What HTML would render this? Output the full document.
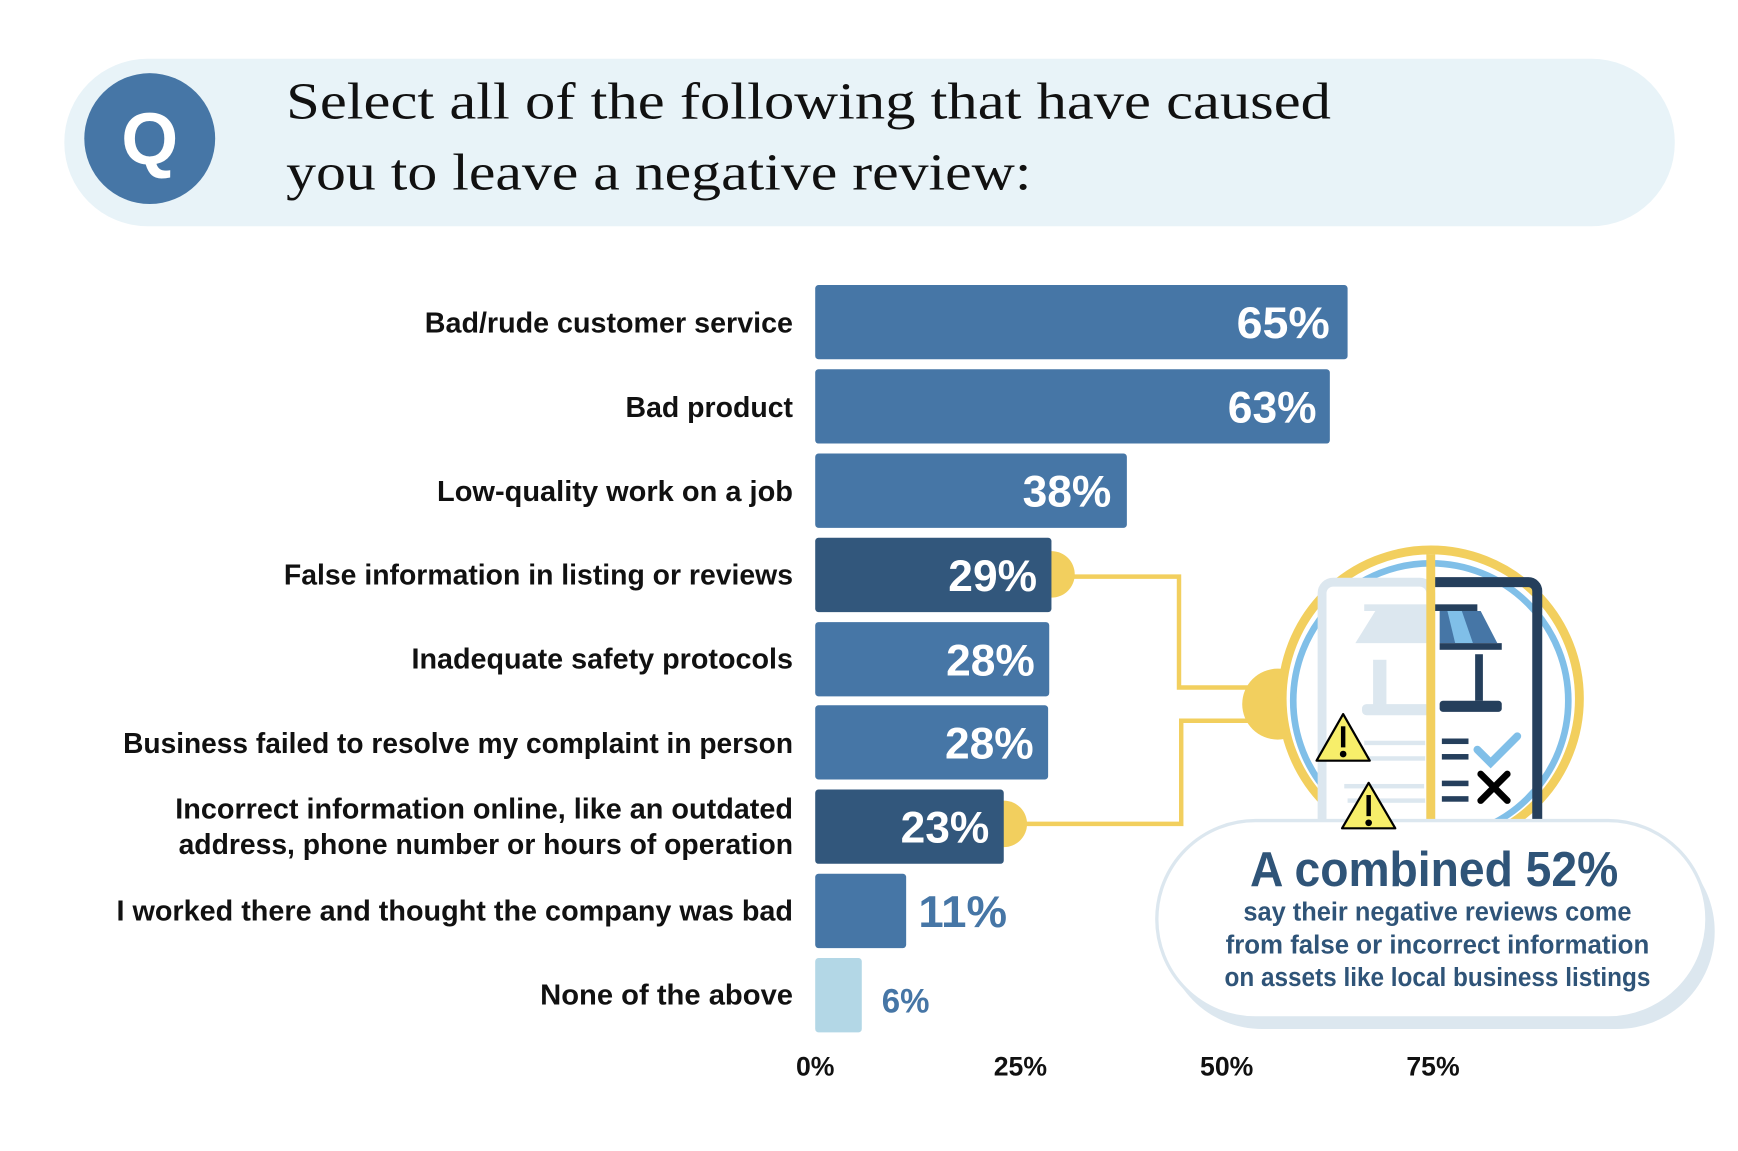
<!DOCTYPE html>
<html><head><meta charset="utf-8"><style>html,body{margin:0;padding:0;background:#fff}svg{display:block}</style></head>
<body>
<svg width="1738" height="1151" viewBox="0 0 1567 1038" xmlns="http://www.w3.org/2000/svg" font-family="Liberation Sans, sans-serif" preserveAspectRatio="none">
<rect x="0" y="0" width="1567" height="1038" fill="#fff"/>
<!-- header -->
<rect x="58" y="53" width="1452" height="151" rx="75" fill="#e8f3f8"/>
<circle cx="135" cy="125" r="59" fill="#4676a6"/>
<text x="135" y="148" font-family="Liberation Sans, sans-serif" font-weight="bold" font-size="66" fill="#fff" text-anchor="middle">Q</text>
<text x="258" y="107" font-family="Liberation Serif, serif" font-size="47" fill="#111" textLength="942" lengthAdjust="spacingAndGlyphs">Select all of the following that have caused</text>
<text x="258" y="171" font-family="Liberation Serif, serif" font-size="47" fill="#111" textLength="672" lengthAdjust="spacingAndGlyphs">you to leave a negative review:</text>

<!-- connectors -->
<g stroke="#f2cf5e" stroke-width="4" fill="none">
<polyline points="960,520 1063,520 1063,620 1135,620"/>
<polyline points="920,743 1065,743 1065,650 1135,650"/>
</g>
<circle cx="948" cy="518" r="21" fill="#f2cf5e"/>
<circle cx="905" cy="743" r="21" fill="#f2cf5e"/>
<circle cx="1152" cy="635" r="32" fill="#f2cf5e"/>

<!-- bars -->
<g font-weight="bold">
<rect x="735" y="257" width="480" height="67" rx="3" fill="#4676a6"/>
<rect x="735" y="333" width="464" height="67" rx="3" fill="#4676a6"/>
<rect x="735" y="409" width="281" height="67" rx="3" fill="#4676a6"/>
<rect x="735" y="485" width="213" height="67" rx="3" fill="#32577c"/>
<rect x="735" y="561" width="211" height="67" rx="3" fill="#4676a6"/>
<rect x="735" y="636" width="210" height="67" rx="3" fill="#4676a6"/>
<rect x="735" y="712" width="170" height="67" rx="3" fill="#32577c"/>
<rect x="735" y="788" width="82" height="67" rx="3" fill="#4676a6"/>
<rect x="735" y="864" width="42" height="67" rx="3" fill="#b3d7e6"/>
<g fill="#fff" font-size="40" text-anchor="end">
<text x="1199" y="305" textLength="84" lengthAdjust="spacingAndGlyphs">65%</text>
<text x="1187" y="381" textLength="80" lengthAdjust="spacingAndGlyphs">63%</text>
<text x="1002" y="457" textLength="80" lengthAdjust="spacingAndGlyphs">38%</text>
<text x="935" y="533" textLength="80" lengthAdjust="spacingAndGlyphs">29%</text>
<text x="933" y="609" textLength="80" lengthAdjust="spacingAndGlyphs">28%</text>
<text x="932" y="684" textLength="80" lengthAdjust="spacingAndGlyphs">28%</text>
<text x="892" y="760" textLength="80" lengthAdjust="spacingAndGlyphs">23%</text>
</g>
<text x="828" y="836" font-size="40" fill="#4676a6" textLength="80" lengthAdjust="spacingAndGlyphs">11%</text>
<text x="795" y="913" font-size="31" fill="#4676a6" textLength="43" lengthAdjust="spacingAndGlyphs">6%</text>

<g fill="#111" font-size="26" text-anchor="end">
<text x="715" y="300" textLength="332" lengthAdjust="spacingAndGlyphs">Bad/rude customer service</text>
<text x="715" y="376" textLength="151" lengthAdjust="spacingAndGlyphs">Bad product</text>
<text x="715" y="452" textLength="321" lengthAdjust="spacingAndGlyphs">Low-quality work on a job</text>
<text x="715" y="527" textLength="459" lengthAdjust="spacingAndGlyphs">False information in listing or reviews</text>
<text x="715" y="603" textLength="344" lengthAdjust="spacingAndGlyphs">Inadequate safety protocols</text>
<text x="715" y="679" textLength="604" lengthAdjust="spacingAndGlyphs">Business failed to resolve my complaint in person</text>
<text x="715" y="738" textLength="557" lengthAdjust="spacingAndGlyphs">Incorrect information online, like an outdated</text>
<text x="715" y="770" textLength="554" lengthAdjust="spacingAndGlyphs">address, phone number or hours of operation</text>
<text x="715" y="830" textLength="610" lengthAdjust="spacingAndGlyphs">I worked there and thought the company was bad</text>
<text x="715" y="906" textLength="228" lengthAdjust="spacingAndGlyphs">None of the above</text>
</g>
<g fill="#111" font-size="24" text-anchor="middle">
<text x="735" y="970">0%</text>
<text x="920" y="970">25%</text>
<text x="1106" y="970">50%</text>
<text x="1292" y="970">75%</text>
</g>
</g>

<!-- magnifier illustration -->
<circle cx="1290" cy="630" r="134" fill="#fff" stroke="#f2cf5e" stroke-width="8"/>
<circle cx="1290" cy="632" r="124" fill="#fff" stroke="#80bfe8" stroke-width="6"/>
<rect x="1192" y="525" width="98" height="240" rx="10" fill="#fff" stroke="#dce7ef" stroke-width="8"/>
<path d="M1290 525 H1378 a8 8 0 0 1 8 8 V760" fill="none" stroke="#253f5c" stroke-width="9"/>
<rect x="1230" y="545" width="60" height="6" fill="#dce7ef"/>
<polygon points="1240,551 1290,551 1290,580 1222,580" fill="#dce7ef"/>
<rect x="1238" y="595" width="12" height="42" fill="#dce7ef"/>
<rect x="1228" y="635" width="62" height="10" rx="4" fill="#dce7ef"/>
<rect x="1290" y="545" width="42" height="6" fill="#253f5c"/>
<polygon points="1298,551 1335,551 1350,580 1298,580" fill="#4676a6"/>
<polygon points="1305,551 1318,551 1328,580 1312,580" fill="#80bfe8"/>
<rect x="1298" y="580" width="56" height="6" fill="#253f5c"/>
<rect x="1330" y="590" width="7" height="42" fill="#253f5c"/>
<rect x="1298" y="632" width="56" height="10" rx="3" fill="#253f5c"/>
<g fill="#253f5c"><rect x="1300" y="666" width="24" height="5"/><rect x="1300" y="680" width="24" height="5"/><rect x="1300" y="704" width="24" height="5"/><rect x="1300" y="718" width="24" height="5"/></g>
<path d="M1332 676 l12 12 l24 -24" fill="none" stroke="#80bfe8" stroke-width="7" stroke-linecap="round"/>
<path d="M1335 698 l24 24 M1359 698 l-24 24" stroke="#000" stroke-width="6" stroke-linecap="round"/>
<g fill="#dce7ef"><rect x="1230" y="668" width="55" height="4"/><rect x="1230" y="682" width="55" height="4"/><rect x="1212" y="707" width="72" height="4"/><rect x="1215" y="720" width="70" height="4"/></g>
<rect x="1286" y="500" width="8" height="265" fill="#f2cf5e"/>
<g stroke="#000" stroke-width="2" stroke-linejoin="round">
<polygon points="1211,644 1235,686 1187,686" fill="#f7ee6a"/>
</g>
<g fill="#000"><rect x="1209" y="655" width="4" height="19"/><circle cx="1211" cy="680" r="3"/></g>

<!-- bubble -->
<rect x="1050" y="752" width="496" height="176" rx="88" fill="#dce7ef"/>
<rect x="1043" y="740" width="496" height="178" rx="89" fill="#fff" stroke="#dce7ef" stroke-width="3"/>
<polygon points="1210,747 1258,747 1234,706" fill="#f7ee6a" stroke="#000" stroke-width="2" stroke-linejoin="round"/>
<rect x="1232" y="717" width="4" height="19" fill="#000"/><circle cx="1234" cy="742" r="3" fill="#000"/>
<g fill="#2f5478" text-anchor="middle" font-weight="bold">
<text x="1293" y="799" font-size="44" textLength="332" lengthAdjust="spacingAndGlyphs">A combined 52%</text>
<text x="1296" y="830" font-size="23" textLength="350" lengthAdjust="spacingAndGlyphs">say their negative reviews come</text>
<text x="1296" y="860" font-size="23" textLength="382" lengthAdjust="spacingAndGlyphs">from false or incorrect information</text>
<text x="1296" y="889" font-size="23" textLength="384" lengthAdjust="spacingAndGlyphs">on assets like local business listings</text>
</g>
</svg>
</body></html>
